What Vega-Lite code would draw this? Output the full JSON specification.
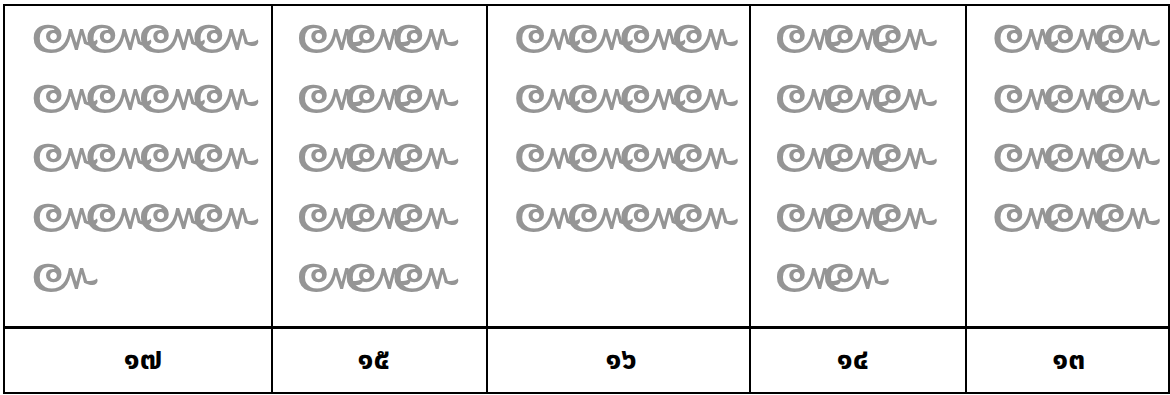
{
"$schema": "https://vega.github.io/schema/vega-lite/v6.json",
"background": "white",
"padding": {"left": 2, "top": 4, "right": 2, "bottom": 0},
"spacing": 0,
"bounds": "flush",
"config": {"view": {"stroke": "black", "strokeWidth": 2}, "concat": {"spacing": 0}},
"data": {"values": [
{"col":"๑๗","row":1,"slot":1},{"col":"๑๗","row":1,"slot":2},{"col":"๑๗","row":1,"slot":3},{"col":"๑๗","row":1,"slot":4},
{"col":"๑๗","row":2,"slot":1},{"col":"๑๗","row":2,"slot":2},{"col":"๑๗","row":2,"slot":3},{"col":"๑๗","row":2,"slot":4},
{"col":"๑๗","row":3,"slot":1},{"col":"๑๗","row":3,"slot":2},{"col":"๑๗","row":3,"slot":3},{"col":"๑๗","row":3,"slot":4},
{"col":"๑๗","row":4,"slot":1},{"col":"๑๗","row":4,"slot":2},{"col":"๑๗","row":4,"slot":3},{"col":"๑๗","row":4,"slot":4},
{"col":"๑๗","row":5,"slot":1},
{"col":"๑๕","row":1,"slot":1},{"col":"๑๕","row":1,"slot":2},{"col":"๑๕","row":1,"slot":3},
{"col":"๑๕","row":2,"slot":1},{"col":"๑๕","row":2,"slot":2},{"col":"๑๕","row":2,"slot":3},
{"col":"๑๕","row":3,"slot":1},{"col":"๑๕","row":3,"slot":2},{"col":"๑๕","row":3,"slot":3},
{"col":"๑๕","row":4,"slot":1},{"col":"๑๕","row":4,"slot":2},{"col":"๑๕","row":4,"slot":3},
{"col":"๑๕","row":5,"slot":1},{"col":"๑๕","row":5,"slot":2},{"col":"๑๕","row":5,"slot":3},
{"col":"๑๖","row":1,"slot":1},{"col":"๑๖","row":1,"slot":2},{"col":"๑๖","row":1,"slot":3},{"col":"๑๖","row":1,"slot":4},
{"col":"๑๖","row":2,"slot":1},{"col":"๑๖","row":2,"slot":2},{"col":"๑๖","row":2,"slot":3},{"col":"๑๖","row":2,"slot":4},
{"col":"๑๖","row":3,"slot":1},{"col":"๑๖","row":3,"slot":2},{"col":"๑๖","row":3,"slot":3},{"col":"๑๖","row":3,"slot":4},
{"col":"๑๖","row":4,"slot":1},{"col":"๑๖","row":4,"slot":2},{"col":"๑๖","row":4,"slot":3},{"col":"๑๖","row":4,"slot":4},
{"col":"๑๔","row":1,"slot":1},{"col":"๑๔","row":1,"slot":2},{"col":"๑๔","row":1,"slot":3},
{"col":"๑๔","row":2,"slot":1},{"col":"๑๔","row":2,"slot":2},{"col":"๑๔","row":2,"slot":3},
{"col":"๑๔","row":3,"slot":1},{"col":"๑๔","row":3,"slot":2},{"col":"๑๔","row":3,"slot":3},
{"col":"๑๔","row":4,"slot":1},{"col":"๑๔","row":4,"slot":2},{"col":"๑๔","row":4,"slot":3},
{"col":"๑๔","row":5,"slot":1},{"col":"๑๔","row":5,"slot":2},
{"col":"๑๓","row":1,"slot":1},{"col":"๑๓","row":1,"slot":2},{"col":"๑๓","row":1,"slot":3},
{"col":"๑๓","row":2,"slot":1},{"col":"๑๓","row":2,"slot":2},{"col":"๑๓","row":2,"slot":3},
{"col":"๑๓","row":3,"slot":1},{"col":"๑๓","row":3,"slot":2},{"col":"๑๓","row":3,"slot":3},
{"col":"๑๓","row":4,"slot":1},{"col":"๑๓","row":4,"slot":2},{"col":"๑๓","row":4,"slot":3}
]},
"hconcat": [
{"width": 268, "height": 388, "transform": [{"filter": {"field": "col", "equal": "๑๗"}}],
 "layer": [
  {"mark": {"type": "text", "clip": true, "align": "left", "baseline": "middle", "fontSize": 80, "color": "#959595", "font": "Noto Serif Thai, Noto Sans Thai, Loma, Garuda, DejaVu Serif, serif"},
   "encoding": {"x": {"field": "slot", "type": "quantitative", "scale": {"domain": [0.7557, 5.4327]}, "axis": null},
    "y": {"field": "row", "type": "quantitative", "scale": {"domain": [0.6129, 6.871], "reverse": true}, "axis": null},
    "text": {"value": "๛"}}},
  {"mark": {"type": "rule", "color": "black", "strokeWidth": 2}, "encoding": {"y": {"datum": 5.9032}}},
  {"transform": [{"aggregate": [{"op": "count", "as": "n"}], "groupby": ["col"]}],
   "mark": {"type": "text", "clip": true, "align": "center", "baseline": "middle", "fontSize": 30, "fontWeight": "bold", "color": "black", "font": "Noto Sans Thai, Loma, Garuda, sans-serif"},
   "encoding": {"x": {"datum": 3.0947}, "y": {"datum": 6.4516}, "text": {"field": "col"}}}
 ]},
{"width": 215, "height": 388, "transform": [{"filter": {"field": "col", "equal": "๑๕"}}],
 "layer": [
  {"mark": {"type": "text", "clip": true, "align": "left", "baseline": "middle", "fontSize": 80, "color": "#959595", "font": "Noto Serif Thai, Noto Sans Thai, Loma, Garuda, DejaVu Serif, serif"},
   "encoding": {"x": {"field": "slot", "type": "quantitative", "scale": {"domain": [0.7557, 4.5077]}, "axis": null},
    "y": {"field": "row", "type": "quantitative", "scale": {"domain": [0.6129, 6.871], "reverse": true}, "axis": null},
    "text": {"value": "๛"}}},
  {"mark": {"type": "rule", "color": "black", "strokeWidth": 2}, "encoding": {"y": {"datum": 5.9032}}},
  {"transform": [{"aggregate": [{"op": "count", "as": "n"}], "groupby": ["col"]}],
   "mark": {"type": "text", "clip": true, "align": "center", "baseline": "middle", "fontSize": 30, "fontWeight": "bold", "color": "black", "font": "Noto Sans Thai, Loma, Garuda, sans-serif"},
   "encoding": {"x": {"datum": 2.6317}, "y": {"datum": 6.4516}, "text": {"field": "col"}}}
 ]},
{"width": 263, "height": 388, "transform": [{"filter": {"field": "col", "equal": "๑๖"}}],
 "layer": [
  {"mark": {"type": "text", "clip": true, "align": "left", "baseline": "middle", "fontSize": 80, "color": "#959595", "font": "Noto Serif Thai, Noto Sans Thai, Loma, Garuda, DejaVu Serif, serif"},
   "encoding": {"x": {"field": "slot", "type": "quantitative", "scale": {"domain": [0.7557, 5.3457]}, "axis": null},
    "y": {"field": "row", "type": "quantitative", "scale": {"domain": [0.6129, 6.871], "reverse": true}, "axis": null},
    "text": {"value": "๛"}}},
  {"mark": {"type": "rule", "color": "black", "strokeWidth": 2}, "encoding": {"y": {"datum": 5.9032}}},
  {"transform": [{"aggregate": [{"op": "count", "as": "n"}], "groupby": ["col"]}],
   "mark": {"type": "text", "clip": true, "align": "center", "baseline": "middle", "fontSize": 30, "fontWeight": "bold", "color": "black", "font": "Noto Sans Thai, Loma, Garuda, sans-serif"},
   "encoding": {"x": {"datum": 3.0507}, "y": {"datum": 6.4516}, "text": {"field": "col"}}}
 ]},
{"width": 216, "height": 388, "transform": [{"filter": {"field": "col", "equal": "๑๔"}}],
 "layer": [
  {"mark": {"type": "text", "clip": true, "align": "left", "baseline": "middle", "fontSize": 80, "color": "#959595", "font": "Noto Serif Thai, Noto Sans Thai, Loma, Garuda, DejaVu Serif, serif"},
   "encoding": {"x": {"field": "slot", "type": "quantitative", "scale": {"domain": [0.7557, 4.5257]}, "axis": null},
    "y": {"field": "row", "type": "quantitative", "scale": {"domain": [0.6129, 6.871], "reverse": true}, "axis": null},
    "text": {"value": "๛"}}},
  {"mark": {"type": "rule", "color": "black", "strokeWidth": 2}, "encoding": {"y": {"datum": 5.9032}}},
  {"transform": [{"aggregate": [{"op": "count", "as": "n"}], "groupby": ["col"]}],
   "mark": {"type": "text", "clip": true, "align": "center", "baseline": "middle", "fontSize": 30, "fontWeight": "bold", "color": "black", "font": "Noto Sans Thai, Loma, Garuda, sans-serif"},
   "encoding": {"x": {"datum": 2.6407}, "y": {"datum": 6.4516}, "text": {"field": "col"}}}
 ]},
{"width": 203, "height": 388, "transform": [{"filter": {"field": "col", "equal": "๑๓"}}],
 "layer": [
  {"mark": {"type": "text", "clip": true, "align": "left", "baseline": "middle", "fontSize": 80, "color": "#959595", "font": "Noto Serif Thai, Noto Sans Thai, Loma, Garuda, DejaVu Serif, serif"},
   "encoding": {"x": {"field": "slot", "type": "quantitative", "scale": {"domain": [0.7557, 4.2987]}, "axis": null},
    "y": {"field": "row", "type": "quantitative", "scale": {"domain": [0.6129, 6.871], "reverse": true}, "axis": null},
    "text": {"value": "๛"}}},
  {"mark": {"type": "rule", "color": "black", "strokeWidth": 2}, "encoding": {"y": {"datum": 5.9032}}},
  {"transform": [{"aggregate": [{"op": "count", "as": "n"}], "groupby": ["col"]}],
   "mark": {"type": "text", "clip": true, "align": "center", "baseline": "middle", "fontSize": 30, "fontWeight": "bold", "color": "black", "font": "Noto Sans Thai, Loma, Garuda, sans-serif"},
   "encoding": {"x": {"datum": 2.5267}, "y": {"datum": 6.4516}, "text": {"field": "col"}}}
 ]}
]
}
